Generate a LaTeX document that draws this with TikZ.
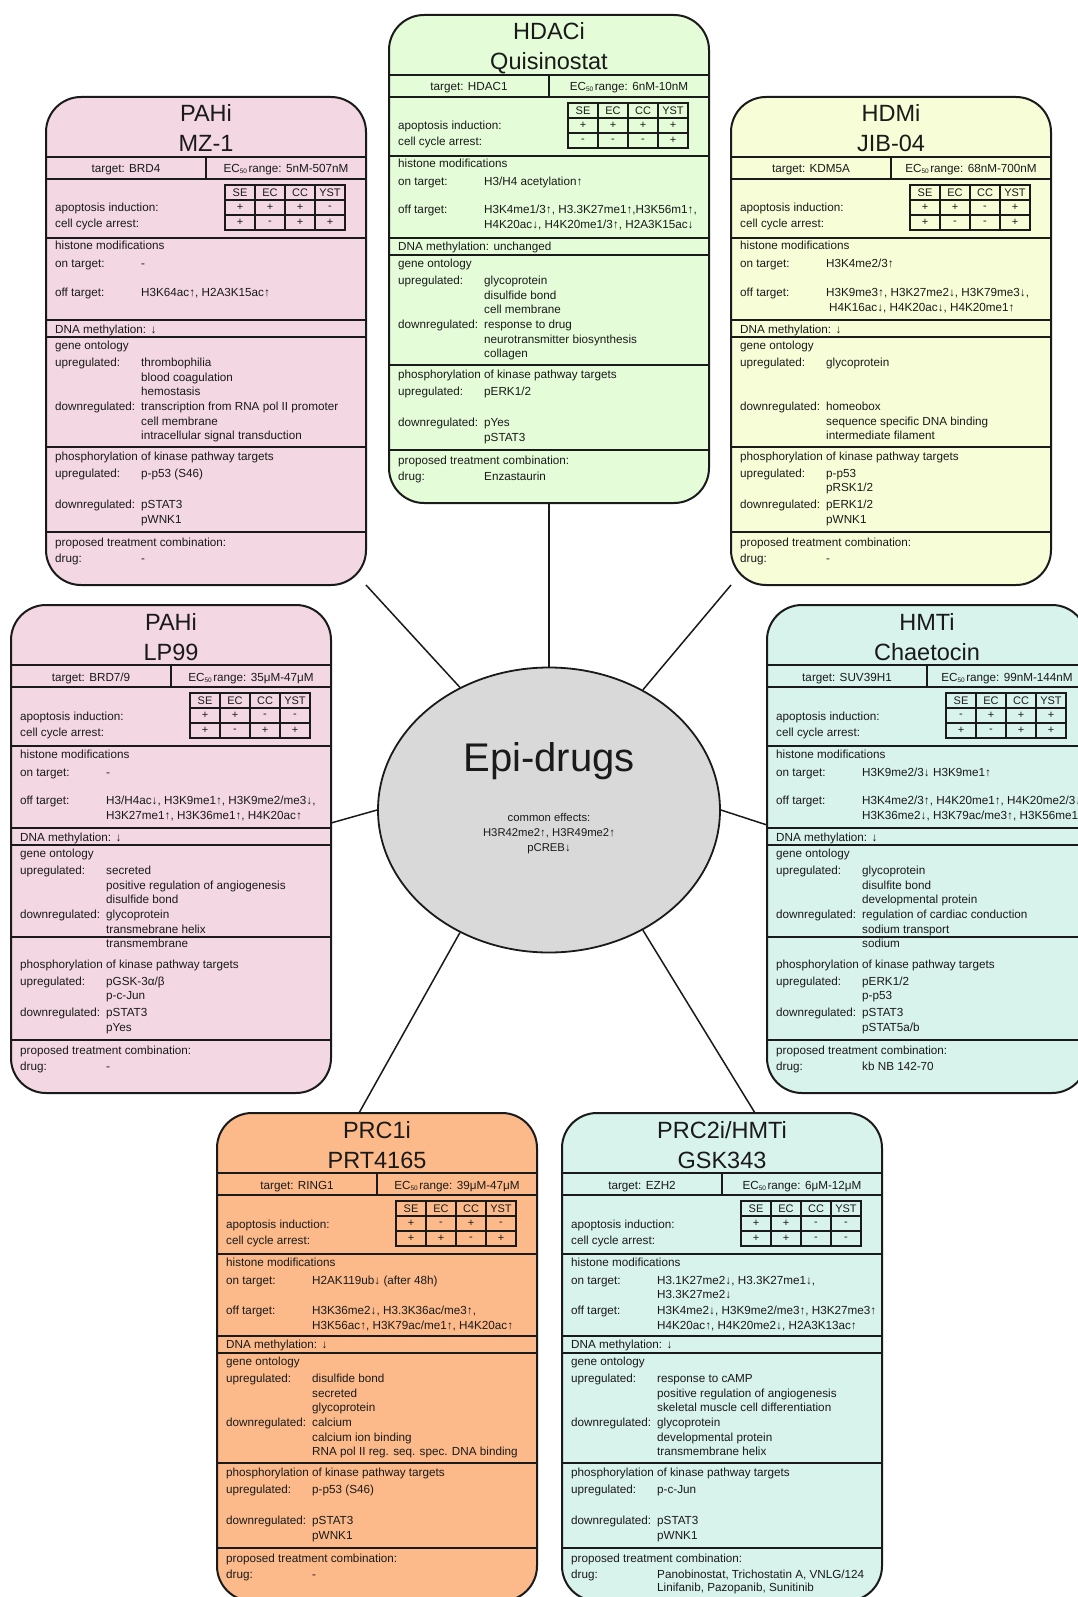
\documentclass[tikz,border=0pt]{standalone}
\usepackage{fontspec}
\setmainfont{Liberation Sans}
\usetikzlibrary{calc,shapes.geometric}
\pgfdeclarelayer{bglayer}
\pgfdeclarelayer{linklayer}
\pgfsetlayers{bglayer,linklayer,main}
\definecolor{cpink}{HTML}{F3D7E2}
\definecolor{cgreen}{HTML}{E4FCD8}
\definecolor{cyellow}{HTML}{F7FED7}
\definecolor{ccyan}{HTML}{D8F2EC}
\definecolor{corange}{HTML}{FCBA8A}
\definecolor{cgray}{HTML}{D9D9D9}
\definecolor{ink}{HTML}{1A1A1A}
\newcounter{tn}
\newcommand\T[3]{\stepcounter{tn}\node[tx] (tn\arabic{tn}) at (#1,#2) {#3};}
\newcommand\ecsub{EC\raisebox{-1pt}{\fontsize{6.5}{7}\selectfont 50}\hspace{1.5pt}}
\tikzset{
 card/.style={draw=ink, line width=2pt, rounded corners=35pt, minimum width=320pt, minimum height=488pt, inner sep=0pt, outer sep=0pt},
 divline/.style={draw=ink, line width=1.2pt},
 tbl/.style={draw=ink, line width=1.1pt},
 tx/.style={anchor=base west, inner sep=0pt, font=\fontsize{11.7}{13}\selectfont, text=ink},
 txc/.style={anchor=base, inner sep=0pt, font=\fontsize{11.7}{13}\selectfont, text=ink},
 cell/.style={anchor=center, inner sep=0pt, font=\fontsize{11}{13}\selectfont, text=ink},
 ttl/.style={anchor=base, inner sep=0pt, font=\fontsize{23.5}{26}\selectfont, text=ink},
 link/.style={draw=ink, line width=1.5pt},
}
\newcommand\cardbase[6]{%
 \node[card, fill=#2] (#1) at (160,244) {};
 \node[ttl] (#1-ta) at (160,25) {#3};
 \node[ttl] (#1-tb) at (160,55) {#4};
 \draw[divline] (0,60) -- (320,60) (0,82) -- (320,82) (160,60) -- (160,82) (0,141) -- (320,141) (0,223) -- (320,223) (0,240) -- (320,240) (0,435) -- (320,435);
 \node[txc] (#1-tg) at (80,76) {target: #5};
 \node[txc] (#1-ec) at (240,76) {\ecsub range: #6};
 \node[tx] (#1-ap) at (9,115) {apoptosis induction:};
 \node[tx] (#1-cc) at (9,131) {cell cycle arrest:};
 \node[tx] (#1-hm) at (9,153) {histone modifications};
 \node[tx] (#1-on) at (9,171) {on target:};
 \node[tx] (#1-go) at (9,252) {gene ontology};
 \node[tx] (#1-gu) at (9,269) {upregulated:};
 \node[tx] (#1-gd) at (9,313) {downregulated:};
 \node[tx] (#1-ph) at (9,363) {phosphorylation of kinase pathway targets};
 \node[tx] (#1-pu) at (9,380) {upregulated:};
 \node[tx] (#1-pd) at (9,411) {downregulated:};
 \node[tx] (#1-pr) at (9,449) {proposed treatment combination:};
 \node[tx] (#1-dr) at (9,465) {drug:};
}
\newcommand\cardtable[9]{%
 \draw[tbl] (179,88) rectangle (299,133) (179,103) -- (299,103) (179,118) -- (299,118) (209,88) -- (209,133) (239,88) -- (239,133) (269,88) -- (269,133);
 \node[cell] (#1-h1) at (194,95.5) {SE};
 \node[cell] (#1-h2) at (224,95.5) {EC};
 \node[cell] (#1-h3) at (254,95.5) {CC};
 \node[cell] (#1-h4) at (284,95.5) {YST};
 \node[cell] (#1-a1) at (194,110.5) {#2};
 \node[cell] (#1-a2) at (224,110.5) {#3};
 \node[cell] (#1-a3) at (254,110.5) {#4};
 \node[cell] (#1-a4) at (284,110.5) {#5};
 \node[cell] (#1-c1) at (194,125.5) {#6};
 \node[cell] (#1-c2) at (224,125.5) {#7};
 \node[cell] (#1-c3) at (254,125.5) {#8};
 \node[cell] (#1-c4) at (284,125.5) {#9};
}
\begin{document}
\begin{tikzpicture}[x=1pt,y=-1pt]
\useasboundingbox (0,0) rectangle (1078,1597);
\begin{pgfonlayer}{bglayer}
\fill[white] (0,0) rectangle (1078,1597);
\end{pgfonlayer}
\clip (0,0) rectangle (1078,1597);

% center
\node[ellipse, draw=ink, line width=1.8pt, fill=cgray, minimum width=342pt, minimum height=285pt, inner sep=0pt] (epi) at (549,810) {};
\node[anchor=base, inner sep=0pt, font=\fontsize{40}{44}\selectfont, text=ink] (epit) at (549,771) {Epi-drugs};
\node[anchor=base, inner sep=0pt, font=\fontsize{11.3}{13}\selectfont, text=ink] (epic1) at (549,821) {common effects:};
\node[anchor=base, inner sep=0pt, font=\fontsize{11.3}{13}\selectfont, text=ink] (epic2) at (549,836) {H3R42me2↑, H3R49me2↑};
\node[anchor=base, inner sep=0pt, font=\fontsize{11.3}{13}\selectfont, text=ink] (epic3) at (549,851) {pCREB↓};

% HDACi
\begin{scope}[shift={(389,15)}]
\cardbase{hdac}{cgreen}{HDACi}{Quisinostat}{HDAC1}{6nM-10nM}
\cardtable{hdac}{+}{+}{+}{+}{-}{-}{-}{+}
\draw[divline] (0,350) -- (320,350);
\T{95}{171}{H3/H4 acetylation↑}
\T{9}{199}{off target:}
\T{95}{199}{H3K4me1/3↑, H3.3K27me1↑,H3K56m1↑,}
\T{95}{214}{H4K20ac↓, H4K20me1/3↑, H2A3K15ac↓}
\T{9}{236}{DNA methylation: unchanged}
\T{95}{269}{glycoprotein}
\T{95}{284}{disulfide bond}
\T{95}{298}{cell membrane}
\T{95}{313}{response to drug}
\T{95}{328}{neurotransmitter biosynthesis}
\T{95}{342}{collagen}
\T{95}{380}{pERK1/2}
\T{95}{411}{pYes}
\T{95}{426}{pSTAT3}
\T{95}{465}{Enzastaurin}
\end{scope}

% PAHi MZ-1
\begin{scope}[shift={(46,97)}]
\cardbase{mz}{cpink}{PAHi}{MZ-1}{BRD4}{5nM-507nM}
\cardtable{mz}{+}{+}{+}{-}{+}{-}{+}{+}
\draw[divline] (0,350) -- (320,350);
\T{95}{171}{-}
\T{9}{199}{off target:}
\T{95}{199}{H3K64ac↑, H2A3K15ac↑}
\T{9}{236}{DNA methylation: ↓}
\T{95}{269}{thrombophilia}
\T{95}{284}{blood coagulation}
\T{95}{298}{hemostasis}
\T{95}{313}{transcription from RNA pol II promoter}
\T{95}{328}{cell membrane}
\T{95}{342}{intracellular signal transduction}
\T{95}{380}{p-p53 (S46)}
\T{95}{411}{pSTAT3}
\T{95}{426}{pWNK1}
\T{95}{465}{-}
\end{scope}

% HDMi JIB-04
\begin{scope}[shift={(731,97)}]
\cardbase{jib}{cyellow}{HDMi}{JIB-04}{KDM5A}{68nM-700nM}
\cardtable{jib}{+}{+}{-}{+}{+}{-}{-}{+}
\draw[divline] (0,350) -- (320,350);
\T{95}{171}{H3K4me2/3↑}
\T{9}{199}{off target:}
\T{95}{199}{H3K9me3↑, H3K27me2↓, H3K79me3↓,}
\T{98}{214}{H4K16ac↓, H4K20ac↓, H4K20me1↑}
\T{9}{236}{DNA methylation: ↓}
\T{95}{269}{glycoprotein}
\T{95}{313}{homeobox}
\T{95}{328}{sequence specific DNA binding}
\T{95}{342}{intermediate filament}
\T{95}{380}{p-p53}
\T{95}{394}{pRSK1/2}
\T{95}{411}{pERK1/2}
\T{95}{426}{pWNK1}
\T{95}{465}{-}
\end{scope}

% PAHi LP99
\begin{scope}[shift={(11,605)}]
\cardbase{lp}{cpink}{PAHi}{LP99}{BRD7/9}{35μM-47μM}
\cardtable{lp}{+}{+}{-}{-}{+}{-}{+}{+}
\draw[divline] (0,332) -- (320,332);
\T{95}{171}{-}
\T{9}{199}{off target:}
\T{95}{199}{H3/H4ac↓, H3K9me1↑, H3K9me2/me3↓,}
\T{95}{214}{H3K27me1↑, H3K36me1↑, H4K20ac↑}
\T{9}{236}{DNA methylation: ↓}
\T{95}{269}{secreted}
\T{95}{284}{positive regulation of angiogenesis}
\T{95}{298}{disulfide bond}
\T{95}{313}{glycoprotein}
\T{95}{328}{transmebrane helix}
\T{95}{342}{transmembrane}
\T{95}{380}{pGSK-3α/β}
\T{95}{394}{p-c-Jun}
\T{95}{411}{pSTAT3}
\T{95}{426}{pYes}
\T{95}{465}{-}
\end{scope}

% HMTi Chaetocin
\begin{scope}[shift={(767,605)}]
\cardbase{chae}{ccyan}{HMTi}{Chaetocin}{SUV39H1}{99nM-144nM}
\cardtable{chae}{-}{+}{+}{+}{+}{-}{+}{+}
\draw[divline] (0,332) -- (320,332);
\T{95}{171}{H3K9me2/3↓ H3K9me1↑}
\T{9}{199}{off target:}
\T{95}{199}{H3K4me2/3↑, H4K20me1↑, H4K20me2/3↓,}
\T{95}{214}{H3K36me2↓, H3K79ac/me3↑, H3K56me1↑}
\T{9}{236}{DNA methylation: ↓}
\T{95}{269}{glycoprotein}
\T{95}{284}{disulfite bond}
\T{95}{298}{developmental protein}
\T{95}{313}{regulation of cardiac conduction}
\T{95}{328}{sodium transport}
\T{95}{342}{sodium}
\T{95}{380}{pERK1/2}
\T{95}{394}{p-p53}
\T{95}{411}{pSTAT3}
\T{95}{426}{pSTAT5a/b}
\T{95}{465}{kb NB 142-70}
\end{scope}

% PRC1i PRT4165
\begin{scope}[shift={(217,1113)}]
\cardbase{prca}{corange}{PRC1i}{PRT4165}{RING1}{39μM-47μM}
\cardtable{prca}{+}{-}{+}{-}{+}{+}{-}{+}
\draw[divline] (0,350) -- (320,350);
\T{95}{171}{H2AK119ub↓ (after 48h)}
\T{9}{201}{off target:}
\T{95}{201}{H3K36me2↓, H3.3K36ac/me3↑,}
\T{95}{216}{H3K56ac↑, H3K79ac/me1↑, H4K20ac↑}
\T{9}{235}{DNA methylation: ↓}
\T{95}{269}{disulfide bond}
\T{95}{284}{secreted}
\T{95}{298}{glycoprotein}
\T{95}{313}{calcium}
\T{95}{328}{calcium ion binding}
\T{95}{342}{RNA pol II reg. seq. spec. DNA binding}
\T{95}{380}{p-p53 (S46)}
\T{95}{411}{pSTAT3}
\T{95}{426}{pWNK1}
\T{95}{465}{-}
\end{scope}

% PRC2i GSK343
\begin{scope}[shift={(562,1113)}]
\cardbase{prcb}{ccyan}{PRC2i/HMTi}{GSK343}{EZH2}{6μM-12μM}
\cardtable{prcb}{+}{+}{-}{-}{+}{+}{-}{-}
\draw[divline] (0,350) -- (320,350);
\T{95}{171}{H3.1K27me2↓, H3.3K27me1↓,}
\T{95}{185}{H3.3K27me2↓}
\T{9}{201}{off target:}
\T{95}{201}{H3K4me2↓, H3K9me2/me3↑, H3K27me3↑}
\T{95}{216}{H4K20ac↑, H4K20me2↓, H2A3K13ac↑}
\T{9}{235}{DNA methylation: ↓}
\T{95}{269}{response to cAMP}
\T{95}{284}{positive regulation of angiogenesis}
\T{95}{298}{skeletal muscle cell differentiation}
\T{95}{313}{glycoprotein}
\T{95}{328}{developmental protein}
\T{95}{342}{transmembrane helix}
\T{95}{380}{p-c-Jun}
\T{95}{411}{pSTAT3}
\T{95}{426}{pWNK1}
\T{95}{465}{Panobinostat, Trichostatin A, VNLG/124}
\T{95}{478}{Linifanib, Pazopanib, Sunitinib}
\end{scope}

% connectors
\begin{pgfonlayer}{linklayer}
\draw[link] (epi.north) -- (hdac.south);
\draw[link] (epi.126) -- (mz.south east);
\draw[link] (epi.52) -- (jib.south west);
\draw[link] (epi.west) -- ($(lp.north east)+(0,218)$);
\draw[link] (epi.east) -- ($(chae.north west)+(0,220)$);
\draw[link] (epi.234) -- ($(prca.north west)+(142,0)$);
\draw[link] (epi.308) -- ($(prcb.north west)+(193,0)$);
\end{pgfonlayer}
\end{tikzpicture}
\end{document}
